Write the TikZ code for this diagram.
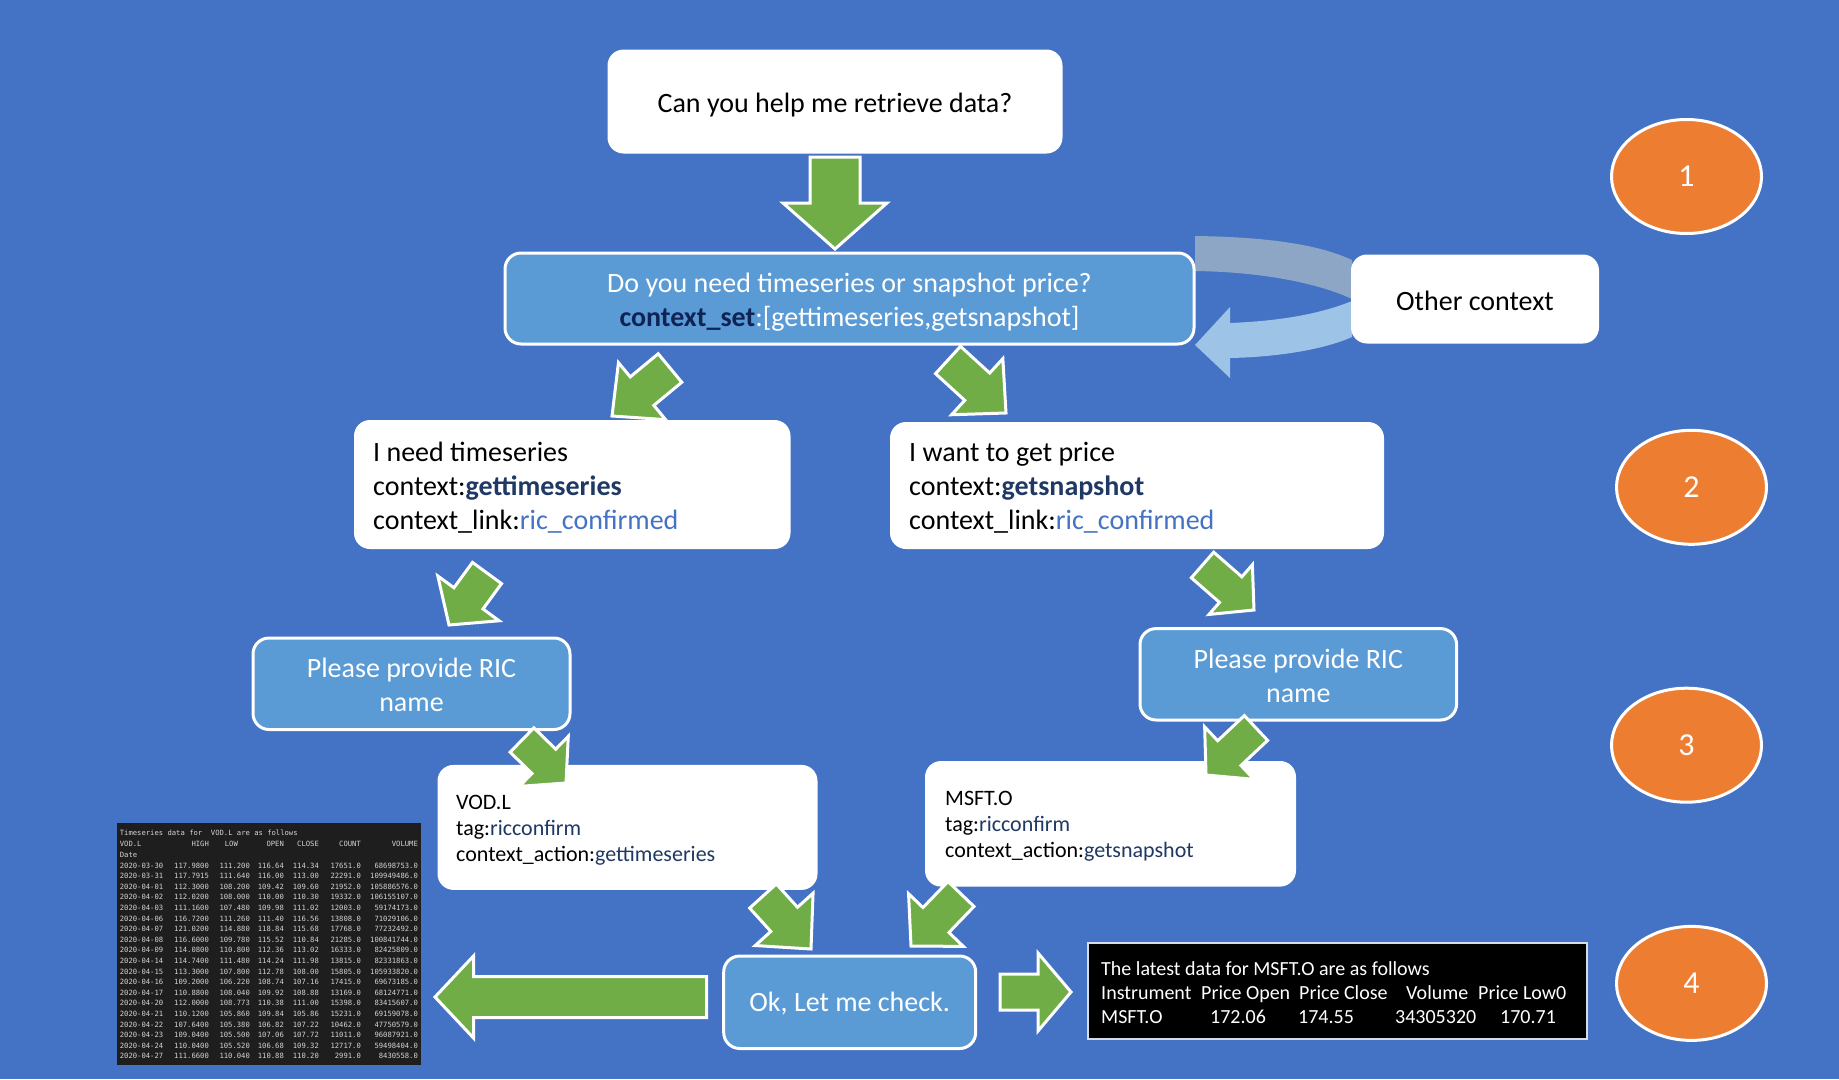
\documentclass[tikz,border=0pt]{standalone}
\usepackage{fontspec}
\setmainfont{Carlito}
\newfontfamily\termfont{DejaVu Sans Mono}
\usetikzlibrary{calc,shapes.geometric}
\definecolor{bg}{HTML}{4472C4}
\definecolor{boxblue}{HTML}{5B9BD5}
\definecolor{arrgreen}{HTML}{70AD47}
\definecolor{orng}{HTML}{ED7D31}
\definecolor{navy}{HTML}{1F3864}
\definecolor{navydark}{HTML}{0F2455}
\definecolor{linkblue}{HTML}{4472C4}
\definecolor{termbg}{HTML}{1E1E1E}
\definecolor{termfg}{HTML}{D4D4D4}
\definecolor{bandgrey}{HTML}{8EA6C6}
\definecolor{bandblue}{HTML}{9DC3E6}
\definecolor{resborder}{HTML}{D6DCE5}
\newcommand\blockarrow[5]{%
  \coordinate (ba-b) at ($(#2)!#3!(#1)$);
  \draw[greenarrow] ($(#1)!#4!90:(#2)$) -- ($(ba-b)!#4!90:(#2)$) -- ($(ba-b)!#5!90:(#2)$) -- (#2) -- ($(ba-b)!#5!-90:(#2)$) -- ($(ba-b)!#4!-90:(#2)$) -- ($(#1)!#4!-90:(#2)$) -- cycle;}
\newcommand\trow[7]{\makebox[42.3pt][l]{#1}\makebox[46.7pt][r]{#2}\makebox[41pt][r]{#3}\makebox[34pt][r]{#4}\makebox[35pt][r]{#5}\makebox[42pt][r]{#6}\makebox[57pt][r]{#7}}
\begin{document}
\begin{tikzpicture}[x=1pt,y=-1pt,
  greenarrow/.style={fill=arrgreen, draw=white, line width=3pt, line join=miter},
  whitebox/.style={fill=white, rounded corners=16pt, inner sep=0pt, font=\fontsize{28}{34}\selectfont},
  bluebox/.style={fill=boxblue, draw=white, line width=3pt, rounded corners=16pt, text=white, align=center, inner sep=0pt, font=\fontsize{28}{34}\selectfont},
  boxtext/.style={anchor=west, align=left, inner sep=0pt, font=\fontsize{28}{34}\selectfont},
  centertext/.style={align=center, inner sep=0pt, font=\fontsize{28}{34}\selectfont},
  smalltext/.style={boxtext, font=\fontsize{22}{26}\selectfont},
  stepnum/.style={ellipse, fill=orng, draw=white, line width=3pt, minimum width=150pt, minimum height=114pt, inner sep=0pt, text=white, font=\fontsize{32}{38}\selectfont},
  termline/.style={anchor=west, inner sep=0pt, text=termfg, font=\termfont\fontsize{7.2}{8}\selectfont}]
\useasboundingbox (0,0) rectangle (1839,1079);
\fill[bg] (0,0) rectangle (1839,1079);

% curved bands between question box and "Other context"
\fill[bandgrey] (1195,236) .. controls (1270,237) and (1320,245) .. (1352,260) -- (1352,299) .. controls (1320,284) and (1265,272) .. (1195,271) -- cycle;
\fill[bandblue] (1352,301) .. controls (1320,314) and (1280,321) .. (1230,323) -- (1230,307) -- (1195,345) -- (1230,378) -- (1230,358) .. controls (1280,357) and (1325,349) .. (1352,337) -- cycle;

% boxes
\node[whitebox, minimum width=455pt, minimum height=104pt] (ask) at (835,101.5) {};
\node[centertext] (asktext) at (835,105) {Can you help me retrieve data?};
\node[bluebox, minimum width=689pt, minimum height=91pt] (q) at (849.5,298.5) {};
\node[bluebox, fill=none, draw=none] (qtext) at (849.5,302) {Do you need timeseries or snapshot price?\\ \textcolor{navydark}{\textbf{context\_set}}:[gettimeseries,getsnapshot]};
\node[whitebox, minimum width=248pt, minimum height=89pt] (other) at (1475,299) {};
\node[centertext] (othertext) at (1475,301) {Other context};
\node[whitebox, minimum width=436.5pt, minimum height=129pt] (ts) at (572.25,484.5) {};
\node[boxtext] (tstext) at (373,488) {I need timeseries\\ context:\textcolor{navy}{\textbf{gettimeseries}}\\ context\_link:\textcolor{linkblue}{ric\_confirmed}};
\node[whitebox, minimum width=494pt, minimum height=127pt] (snap) at (1137,485.5) {};
\node[boxtext] (snaptext) at (909,488) {I want to get price\\ context:\textcolor{navy}{\textbf{getsnapshot}}\\ context\_link:\textcolor{linkblue}{ric\_confirmed}};
\node[bluebox, minimum width=317pt, minimum height=91.5pt] (ricl) at (411.5,683.75) {};
\node[bluebox, fill=none, draw=none] (ricltext) at (411.5,685) {Please provide RIC\\ name};
\node[bluebox, minimum width=316.6pt, minimum height=91.4pt] (ricr) at (1298.3,674.3) {};
\node[bluebox, fill=none, draw=none] (ricrtext) at (1298.3,675.5) {Please provide RIC\\ name};
\node[whitebox, minimum width=380pt, minimum height=125pt] (vod) at (627.5,827.4) {};
\node[smalltext] (vodtext) at (456,830.5) {VOD.L\\ tag:\textcolor{navy}{ricconfirm}\\ context\_action:\textcolor{navy}{gettimeseries}};
\node[whitebox, minimum width=371pt, minimum height=125.6pt] (msft) at (1110.5,823.8) {};
\node[smalltext] (msfttext) at (945,826.5) {MSFT.O\\ tag:\textcolor{navy}{ricconfirm}\\ context\_action:\textcolor{navy}{getsnapshot}};
\node[bluebox, minimum width=252pt, minimum height=92.5pt] (ok) at (849.7,1002.25) {};
\node[centertext, text=white] (oktext) at (849.7,1004) {Ok, Let me check.};

% result box
\node[fill=black, draw=resborder, line width=2pt, minimum width=499pt, minimum height=96pt] (result) at (1337.5,991) {};
\node[anchor=west, align=left, inner sep=0pt, text=white, font=\fontsize{20}{24}\selectfont] (resulttext) at (1101,993) {The latest data for MSFT.O are as follows\\ \makebox[100pt][l]{Instrument}\makebox[98pt][l]{Price Open}\makebox[107pt][l]{Price Close}\makebox[72pt][l]{Volume}Price Low0\\ \makebox[109pt][l]{MSFT.O}\makebox[88pt][l]{172.06}\makebox[97pt][l]{174.55}\makebox[105pt][l]{34305320}170.71};

% terminal screenshot
\node[fill=termbg, minimum width=304pt, minimum height=242pt, inner sep=0pt] (term) at (269,944) {};
\node[termline] (ttitle) at (119.7,833) {Timeseries data for\ \ VOD.L are as follows};
\node[termline] (thead) at (119.7,844) {\trow{VOD.L}{HIGH}{LOW\hspace{12pt}}{OPEN}{CLOSE}{COUNT}{VOLUME}};
\node[termline] (tdate) at (119.7,855) {Date};
\foreach \ta/\tb/\tc/\td/\te/\tf/\tg [count=\i] in {
2020-03-30/117.9800/111.200/116.64/114.34/17651.0/68698753.0,
2020-03-31/117.7915/111.640/116.00/113.00/22291.0/109949486.0,
2020-04-01/112.3000/108.200/109.42/109.60/21952.0/105886576.0,
2020-04-02/112.0200/108.000/110.00/110.30/19332.0/106155107.0,
2020-04-03/111.1600/107.480/109.98/111.02/12003.0/59174173.0,
2020-04-06/116.7200/111.260/111.40/116.56/13808.0/71029106.0,
2020-04-07/121.0200/114.880/118.84/115.68/17768.0/77232492.0,
2020-04-08/116.6000/109.780/115.52/110.84/21285.0/100841744.0,
2020-04-09/114.0800/110.800/112.36/113.02/16333.0/82425809.0,
2020-04-14/114.7400/111.480/114.24/111.98/13815.0/82331863.0,
2020-04-15/113.3000/107.800/112.78/108.00/15805.0/105933820.0,
2020-04-16/109.2000/106.220/108.74/107.16/17415.0/69673185.0,
2020-04-17/110.8800/108.040/109.92/108.88/13169.0/68124771.0,
2020-04-20/112.0000/108.773/110.38/111.00/15398.0/83415607.0,
2020-04-21/110.1200/105.860/109.84/105.86/15231.0/69159078.0,
2020-04-22/107.6400/105.380/106.82/107.22/10462.0/47750579.0,
2020-04-23/109.0400/105.500/107.06/107.72/11011.0/96087921.0,
2020-04-24/110.0400/105.520/106.68/109.32/12717.0/59498404.0,
2020-04-27/111.6600/110.040/110.88/110.20/2991.0/8430558.0}
  \node[termline] (tr\i) at (119.7,{865.5+10.6*(\i-1)}) {\trow{\ta}{\tb}{\tc}{\td}{\te}{\tf}{\tg}};

% step numbers
\node[stepnum] (n1) at (1686.5,176.5) {1};
\node[stepnum] (n2) at (1691.5,487.3) {2};
\node[stepnum] (n3) at (1686.5,745.2) {3};
\node[stepnum] (n4) at (1691.5,983.4) {4};

% green block arrows
\coordinate (aA1) at (835,157);    \coordinate (aA2) at (835,249);
\coordinate (aB1) at (670,368);    \coordinate (aB2) at (612,416);
\coordinate (aC1) at (948,360);    \coordinate (aC2) at (1006,413);
\coordinate (aD1) at (487,573);    \coordinate (aD2) at (449,625);
\coordinate (aE1) at (1202.5,565); \coordinate (aE2) at (1254,610);
\coordinate (aF1) at (522,740);    \coordinate (aF2) at (566,783);
\coordinate (aG1) at (1256,728);   \coordinate (aG2) at (1206,775);
\coordinate (aH1) at (763,896);    \coordinate (aH2) at (811,949);
\coordinate (aJ1) at (961,894);    \coordinate (aJ2) at (911,946);
\coordinate (aI1) at (706.5,997);  \coordinate (aI2) at (435,997);
\coordinate (aK1) at (1000,992);   \coordinate (aK2) at (1071,992);
\blockarrow{aA1}{aA2}{46pt}{25pt}{52pt}
\blockarrow{aB1}{aB2}{39pt}{18.5pt}{37pt}
\blockarrow{aC1}{aC2}{39pt}{18.5pt}{38pt}
\blockarrow{aD1}{aD2}{33pt}{18pt}{38pt}
\blockarrow{aE1}{aE2}{31pt}{17pt}{33pt}
\blockarrow{aF1}{aF2}{31pt}{17pt}{35pt}
\blockarrow{aG1}{aG2}{32pt}{17pt}{36pt}
\blockarrow{aH1}{aH2}{40pt}{18pt}{39pt}
\blockarrow{aJ1}{aJ2}{36pt}{18pt}{38pt}
\blockarrow{aI1}{aI2}{38.5pt}{20.5pt}{41pt}
\blockarrow{aK1}{aK2}{33pt}{18pt}{39pt}
\end{tikzpicture}
\end{document}
